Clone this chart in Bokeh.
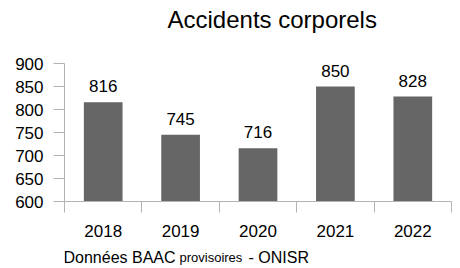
from bokeh.plotting import figure
from bokeh.layouts import column
from bokeh.models import (ColumnDataSource, Range1d, LinearAxis,
                          FixedTicker, Label, LabelSet)
from bokeh.core.properties import value
from bokeh.embed import file_html
from bokeh.resources import INLINE

years = ["2018", "2019", "2020", "2021", "2022"]
accidents = [816, 745, 716, 850, 828]
y_ticks = [600, 650, 700, 750, 800, 850, 900]
title_text = "Accidents corporels"
footer_parts = ["Données BAAC", "provisoires", "- ONISR"]

FONT = "Liberation Sans"
TXT = "#000000"
AX = "#b3b3b3"
W = 460


def blank(height):
    f = figure(width=W, height=height, output_backend="svg",
               toolbar_location=None, x_range=Range1d(0, 1),
               y_range=Range1d(0, 1), x_axis_location=None,
               y_axis_location=None, min_border=0)
    f.outline_line_color = None
    f.xgrid.visible = False
    f.ygrid.visible = False
    return f


# ---- title strip (frame is aligned with the chart frame, x is frame-relative)
t = blank(40)
t.add_layout(Label(x=103, y=21, x_units="screen", y_units="screen",
                   text=title_text, text_baseline="alphabetic",
                   text_font=FONT, text_font_size="24px", text_color=TXT))

# ---- chart
n = len(years)
centres = [i + 0.5 for i in range(n)]          # category slots
bounds = [float(i) for i in range(n + 1)]       # slot boundaries

source = ColumnDataSource(dict(x=centres, year=years, value=accidents,
                               label=[str(v) for v in accidents]))

p = figure(width=W, height=210, output_backend="svg", toolbar_location=None,
           x_range=Range1d(0, n), y_range=Range1d(600, 900),
           x_axis_location=None, y_axis_location=None,
           min_border_left=64, min_border_right=9,
           min_border_top=23, min_border_bottom=49)
p.outline_line_color = None
p.xgrid.visible = False
p.ygrid.visible = False

p.vbar(x="x", top="value", width=0.5, source=source,
       fill_color="#666666", line_color=None)

p.add_layout(LabelSet(x="x", y="value", text="label", source=source,
                      y_offset=10, text_align="center", text_baseline="bottom",
                      text_font=value(FONT), text_font_size=value("17px"),
                      text_color=TXT))

yax = LinearAxis(ticker=FixedTicker(ticks=y_ticks, minor_ticks=[]))
yax.axis_line_color = AX
yax.major_tick_line_color = AX
yax.major_tick_out = 11
yax.major_tick_in = 0
yax.minor_tick_line_color = None
yax.major_label_standoff = 10
yax.major_label_text_font = FONT
yax.major_label_text_font_size = "17px"
yax.major_label_text_color = TXT
p.add_layout(yax, "left")

xax = LinearAxis(ticker=FixedTicker(ticks=centres, minor_ticks=bounds))
xax.major_label_overrides = {c: y for c, y in zip(centres, years)}
xax.axis_line_color = AX
xax.major_tick_line_color = None
xax.major_tick_out = 11
xax.major_tick_in = 0
xax.minor_tick_line_color = AX
xax.minor_tick_out = 11
xax.minor_tick_in = 0
xax.major_label_standoff = 12
xax.major_label_text_font = FONT
xax.major_label_text_font_size = "17px"
xax.major_label_text_color = TXT
p.add_layout(xax, "below")

# ---- footer strip
f = blank(18)
for txt, fx, fs in zip(footer_parts, [-1, 115, 184], ["16px", "13px", "16px"]):
    f.add_layout(Label(x=fx, y=11, x_units="screen", y_units="screen",
                       text=txt, text_baseline="alphabetic",
                       text_font=FONT, text_font_size=fs, text_color=TXT))

layout = column(t, p, f, spacing=0)
open("out.html", "w").write(file_html(layout, INLINE))
